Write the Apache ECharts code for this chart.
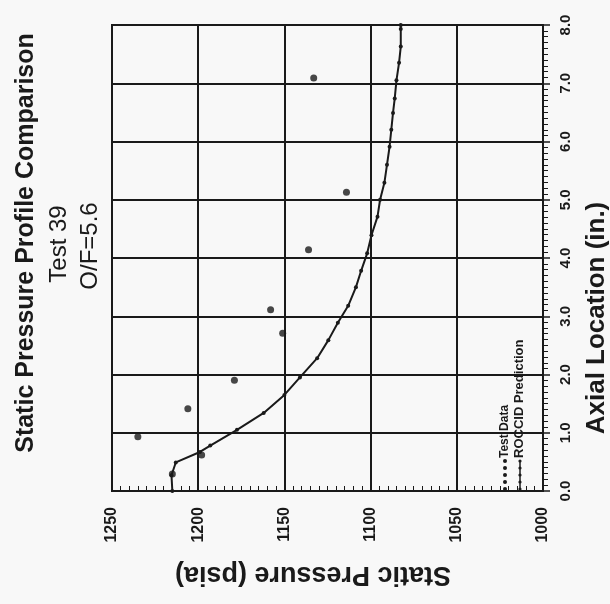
<!DOCTYPE html>
<html>
<head>
<meta charset="utf-8">
<script src="https://cdn.jsdelivr.net/npm/echarts@6/dist/echarts.min.js"></script>
<style>
  html, body { margin: 0; padding: 0; background: #f8f8f8; }
  #chart { width: 610px; height: 604px; }
</style>
</head>
<body>
<div id="chart"></div>
<script>
// 测试数据 (Test Data): 静压 psia / 轴向位置 in.
var testPressure = [1215, 1198, 1235, 1206, 1179, 1151, 1158, 1136, 1114, 1133]
var testAxial = [0.29, 0.62, 0.93, 1.41, 1.90, 2.71, 3.11, 4.14, 5.13, 7.09]

// ROCCID Prediction 曲线
var predAxial = [0, 0.27, 0.49, 0.67, 0.78, 1.05, 1.34, 1.65, 1.95, 2.28, 2.59, 2.89, 3.18, 3.5, 3.78,
  4.08, 4.39, 4.71, 5.0, 5.29, 5.6, 5.91, 6.2, 6.49, 6.74, 7.05, 7.35, 7.63, 7.93, 8.0]
var predPressure = [1215, 1215.5, 1213, 1199, 1193, 1177.5, 1162, 1150, 1141, 1131, 1124.5, 1119, 1113, 1108.5, 1105.5,
  1102, 1099.5, 1096, 1094.5, 1092, 1090.5, 1089, 1088, 1087, 1086, 1085, 1083.5, 1082.5, 1082.5, 1082.5]

var ink = '#1a1a1a'
var font = '"Liberation Sans", Arial, sans-serif'

var testData = testPressure.map(function (p, i) { return [p, testAxial[i]] })
var predData = predPressure.map(function (p, i) { return [p, predAxial[i]] })

var chart = echarts.init(document.getElementById('chart'))

// 图例: 旋转后的小点列 + 文字
var legendDots = []
for (var i = 0; i < 5; i++) {
  legendDots.push({ type: 'circle', shape: { cx: 505, cy: 489 - i * 7, r: 2 }, style: { fill: ink } })
}
var predLegend = [{ type: 'line', shape: { x1: 520, y1: 490, x2: 520, y2: 461 }, style: { stroke: ink, lineWidth: 1.5 } }]
for (var j = 0; j < 5; j++) {
  predLegend.push({ type: 'circle', shape: { cx: 520, cy: 489 - j * 7, r: 1.6 }, style: { fill: ink } })
}

function vtext(x, y, text, size, weight, rot) {
  return {
    type: 'text', x: x, y: y, rotation: rot,
    style: { text: text, font: weight + ' ' + size + 'px ' + font, fill: ink, align: 'center', verticalAlign: 'middle' }
  }
}

var option = {
  backgroundColor: '#f8f8f8',
  animation: false,
  grid: { left: 112, right: 67, top: 25, bottom: 113, show: true, borderColor: ink, borderWidth: 2 },
  xAxis: {
    type: 'value', min: 1000, max: 1250, interval: 50, inverse: true,
    axisLine: { show: true, lineStyle: { color: ink, width: 2 } },
    axisTick: { show: true, inside: true, length: 6, lineStyle: { color: ink, width: 1.5 } },
    minorTick: { show: true, splitNumber: 10, length: 5, lineStyle: { color: ink, width: 1 } },
    splitLine: { show: true, lineStyle: { color: ink, width: 2 } },
    axisLabel: {
      rotate: 90, margin: 16, color: ink, fontSize: 16, fontWeight: 'bold', fontFamily: font,
      formatter: function (v) { return String(v) }
    }
  },
  yAxis: {
    type: 'value', min: 0, max: 8, interval: 1, position: 'right',
    axisLine: { show: true, lineStyle: { color: ink, width: 2 } },
    axisTick: { show: true, inside: false, length: 7, lineStyle: { color: ink, width: 1.5 } },
    minorTick: { show: true, splitNumber: 10, length: 5, lineStyle: { color: ink, width: 1 } },
    splitLine: { show: true, lineStyle: { color: ink, width: 2 } },
    axisLabel: {
      rotate: 90, margin: 15, color: ink, fontSize: 15, fontWeight: 'bold', fontFamily: font,
      formatter: function (v) { return v.toFixed(1) }
    }
  },
  graphic: [
    vtext(26, 243, 'Static Pressure Profile Comparison', 25, 'bold', Math.PI / 2),
    vtext(59, 244, 'Test 39', 24, 'normal', Math.PI / 2),
    vtext(90, 246, 'O/F=5.6', 24, 'normal', Math.PI / 2),
    vtext(313, 574, 'Static Pressure (psia)', 27, 'bold', Math.PI),
    vtext(597, 318, 'Axial Location (in.)', 26, 'bold', Math.PI / 2),
    {
      type: 'text', x: 505, y: 458, rotation: Math.PI / 2,
      style: { text: 'Test Data', font: 'bold 12px ' + font, fill: ink, align: 'left', verticalAlign: 'middle' }
    },
    {
      type: 'text', x: 519, y: 458, rotation: Math.PI / 2,
      style: { text: 'ROCCID Prediction', font: 'bold 13px ' + font, fill: ink, align: 'left', verticalAlign: 'middle' }
    }
  ].concat(legendDots).concat(predLegend),
  series: [
    {
      name: 'ROCCID Prediction', type: 'line', data: predData,
      symbol: 'circle', symbolSize: 4, showSymbol: true,
      lineStyle: { color: ink, width: 2 }, itemStyle: { color: ink }
    },
    {
      name: 'Test Data', type: 'scatter', data: testData,
      symbol: 'circle', symbolSize: 7, itemStyle: { color: ink }
    }
  ]
}
chart.setOption(option)
</script>
</body>
</html>
